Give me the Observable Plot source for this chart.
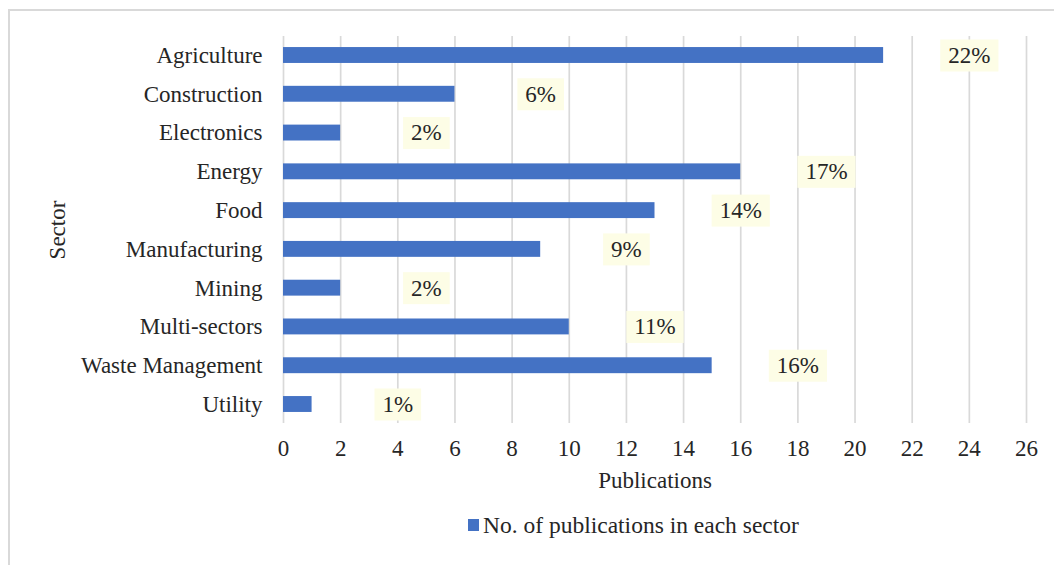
<!DOCTYPE html>
<html><head><meta charset="utf-8">
<script src="https://cdn.jsdelivr.net/npm/d3@7"></script>
<script src="https://cdn.jsdelivr.net/npm/@observablehq/plot@0.6"></script>
<style>
body{margin:0;background:#fff;width:1054px;height:565px;overflow:hidden;position:relative;font-family:"Liberation Serif","Times New Roman",serif;}
#frame{position:absolute;left:8px;top:9px;width:1100px;height:600px;border-top:2px solid #d9d9d9;border-left:2px solid #d9d9d9;}
#chart{position:absolute;left:0;top:0;}
#legend{position:absolute;left:468px;top:510px;height:30px;display:flex;align-items:center;font-size:23.5px;color:#262626;white-space:nowrap;}
#legend .sw{display:inline-block;width:11px;height:12px;background:#4472C4;margin-right:4px;}
</style></head><body>
<div id="frame"></div>
<div id="chart"></div>
<div id="legend"><span class="sw"></span><span>No. of publications in each sector</span></div>
<script>
const sectors = ["Agriculture","Construction","Electronics","Energy","Food","Manufacturing","Mining","Multi-sectors","Waste Management","Utility"];
const publications = [21,6,2,16,13,9,2,10,15,1];
const shareLabels = ["22%","6%","2%","17%","14%","9%","2%","11%","16%","1%"];
const xTicks = [0,2,4,6,8,10,12,14,16,18,20,22,24,26];
const labelShift = 3;

const data = sectors.map((s,i)=>({sector:s, n:publications[i], pct:shareLabels[i]}));

const plot = Plot.plot({
  width:1054, height:500,
  marginLeft:283, marginRight:28, marginTop:36, marginBottom:77,
  style:{fontFamily:'"Liberation Serif","Times New Roman",serif', fontSize:"23px", color:"#262626", background:"transparent", overflow:"visible"},
  x:{domain:[0,26], ticks:xTicks, label:null, tickSize:0, tickPadding:16},
  y:{domain:sectors, label:null, paddingInner:0.59, paddingOuter:0.285, round:false, tickSize:0, tickPadding:21},
  marks:[
    Plot.ruleX(xTicks, {stroke:"#d9d9d9", strokeWidth:1.7, strokeOpacity:1}),
    Plot.barX(data, {x:"n", y:"sector", fill:"#4472C4"}),
    Plot.text(data, {x:d=>d.n+labelShift, y:"sector", text:"pct"}),
    Plot.text([0], {frameAnchor:"left", text:()=>"Sector", rotate:-90, dx:-226, textAnchor:"middle", lineAnchor:"middle"}),
    Plot.text([0], {frameAnchor:"bottom", text:()=>"Publications", dy:57, textAnchor:"middle", lineAnchor:"middle"})
  ]
});
document.getElementById("chart").appendChild(plot);

// light-yellow boxes behind the percentage labels, sized from the rendered text
d3.select(plot).selectAll('g[aria-label="text"] text')
  .filter(function(){ return shareLabels.includes(this.textContent); })
  .each(function(){
    const bb = this.getBBox();
    const r = document.createElementNS("http://www.w3.org/2000/svg","rect");
    r.setAttribute("x", bb.x - 8);
    r.setAttribute("y", -16);
    r.setAttribute("width", bb.width + 16);
    r.setAttribute("height", 32);
    r.setAttribute("fill", "#fdfde6");
    const t = this.getAttribute("transform");
    if (t) r.setAttribute("transform", t);
    this.parentNode.insertBefore(r, this);
  });
</script>
</body></html>
